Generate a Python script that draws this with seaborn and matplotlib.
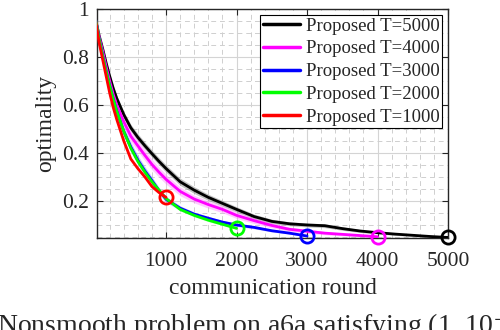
import matplotlib
matplotlib.use("Agg")
import matplotlib.pyplot as plt
import seaborn as sns
import numpy as np
import pandas as pd
from matplotlib.ticker import MultipleLocator, FixedLocator

# ---------------- data ----------------
x_all = [1, 50, 100, 150, 200, 250, 300, 400, 500, 600, 700, 800, 900, 1000,
         1200, 1400, 1600, 1800, 2000, 2250, 2500, 2750, 3000, 3250, 3500,
         3750, 4000, 4250, 4500, 4750, 5000]

y_T5000 = [0.955, 0.89, 0.835, 0.775, 0.72, 0.67, 0.628, 0.56, 0.505, 0.465,
           0.43, 0.397, 0.365, 0.335, 0.28, 0.245, 0.215, 0.19, 0.165, 0.135,
           0.115, 0.105, 0.10, 0.097, 0.085, 0.075, 0.068, 0.062, 0.057, 0.052,
           0.048]
y_T4000 = [0.955, 0.885, 0.825, 0.76, 0.70, 0.645, 0.60, 0.53, 0.47, 0.43,
           0.39, 0.352, 0.32, 0.29, 0.24, 0.208, 0.185, 0.165, 0.14, 0.118,
           0.098, 0.082, 0.074, 0.066, 0.061, 0.056, 0.051]
y_T3000 = [0.955, 0.875, 0.805, 0.74, 0.68, 0.625, 0.575, 0.49, 0.425, 0.37,
           0.325, 0.285, 0.243, 0.207, 0.17, 0.145, 0.128, 0.112, 0.10, 0.09,
           0.076, 0.066, 0.054]
y_T2000 = [0.955, 0.875, 0.805, 0.74, 0.68, 0.625, 0.575, 0.49, 0.42, 0.365,
           0.32, 0.28, 0.245, 0.21, 0.165, 0.14, 0.12, 0.103, 0.086]
y_T1000 = [0.95, 0.86, 0.79, 0.72, 0.65, 0.59, 0.54, 0.45, 0.375, 0.335,
           0.30, 0.26, 0.235, 0.215]

spread_T5000 = [0.004, 0.006, 0.008, 0.009, 0.01, 0.011, 0.012, 0.013, 0.014,
                0.015, 0.015, 0.015, 0.015, 0.015, 0.015, 0.014, 0.013, 0.012,
                0.011, 0.01, 0.009, 0.008, 0.008, 0.008, 0.007, 0.006, 0.005,
                0.005, 0.004, 0.004, 0.003]
spread_T4000 = [0.004, 0.008, 0.012, 0.014, 0.016, 0.018, 0.02, 0.022, 0.022,
                0.022, 0.022, 0.022, 0.021, 0.02, 0.018, 0.016, 0.015, 0.014,
                0.013, 0.012, 0.01, 0.009, 0.008, 0.007, 0.006, 0.005, 0.004]
spread_T3000 = [0.004, 0.008, 0.012, 0.014, 0.016, 0.017, 0.018, 0.02, 0.02,
                0.02, 0.018, 0.016, 0.014, 0.012, 0.01, 0.009, 0.008, 0.007,
                0.006, 0.006, 0.005, 0.004, 0.003]
spread_T2000 = [0.003, 0.005, 0.007, 0.008, 0.009, 0.01, 0.01, 0.01, 0.01,
                0.01, 0.009, 0.008, 0.008, 0.007, 0.007, 0.006, 0.006, 0.005,
                0.004]
spread_T1000 = [0.002, 0.003, 0.003, 0.003, 0.004, 0.004, 0.004, 0.004, 0.004,
                0.004, 0.004, 0.003, 0.003, 0.003]

labels = ["Proposed T=5000", "Proposed T=4000", "Proposed T=3000",
          "Proposed T=2000", "Proposed T=1000"]
colors = ["#000000", "#FF00FF", "#0000FF", "#00FF00", "#FF0000"]
band_colors = ["#7a7a7a", "#FF66FF", "#6666FF", "#66FF66", "#FF6666"]
band_alpha = [0.45, 0.35, 0.35, 0.35, 0.3]

x_ticks = [1000, 2000, 3000, 4000, 5000]
y_ticks = [0.2, 0.4, 0.6, 0.8, 1.0]
y_tick_labels = ["0.2", "0.4", "0.6", "0.8", "1"]

series = [y_T5000, y_T4000, y_T3000, y_T2000, y_T1000]
spreads = [spread_T5000, spread_T4000, spread_T3000, spread_T2000, spread_T1000]

# ---------------- plot ----------------
sns.set_theme(style="white")
plt.rcParams["font.family"] = ["Liberation Serif", "DejaVu Serif"]
plt.rcParams["mathtext.fontset"] = "stix"

fig = plt.figure(figsize=(5.0, 3.3), dpi=100)
ax = fig.add_axes([0.194, 0.2797, 0.702, 0.6930])

for ys, sp, lab, c, bc, ba in zip(series, spreads, labels, colors, band_colors, band_alpha):
    xs = x_all[:len(ys)]
    df = pd.DataFrame({"round": xs, "opt": ys})
    lo = np.array(ys) - np.array(sp)
    hi = np.array(ys) + np.array(sp)
    ax.fill_between(xs, lo, hi, color=bc, alpha=ba, lw=0, zorder=2)
    sns.lineplot(data=df, x="round", y="opt", ax=ax, color=c, lw=2.0,
                 label=lab, zorder=3, estimator=None)

# end markers
for ys, c in zip(series, colors):
    xs = x_all[:len(ys)]
    ax.plot([xs[-1]], [ys[-1]], marker="o", ms=9.5, mfc="none", mec=c, mew=2.0,
            ls="none", zorder=5, clip_on=False)

ax.set_xlim(20, 5000)
ax.set_ylim(0.047, 1.0)
ax.xaxis.set_major_locator(FixedLocator(x_ticks))
ax.yaxis.set_major_locator(FixedLocator(y_ticks))
ax.set_yticklabels(y_tick_labels)
ax.xaxis.set_minor_locator(MultipleLocator(200))
ax.yaxis.set_minor_locator(MultipleLocator(0.05))

ax.grid(which="major", color="#d4d4d4", lw=0.8, ls="-", zorder=0)
ax.grid(which="minor", color="#cfcfcf", lw=0.7, ls=(0, (5, 4)), zorder=0)
ax.set_axisbelow(True)

ax.tick_params(which="major", direction="in", length=4, width=0.8,
               top=True, right=True, bottom=True, left=True,
               labelsize=15.5, color="#262626", labelcolor="#262626")
ax.tick_params(axis="x", which="major", pad=10.5)
ax.tick_params(axis="y", which="major", pad=6)
ax.tick_params(which="minor", length=0)

for s in ax.spines.values():
    s.set_color("#262626")
    s.set_linewidth(1.0)
    s.set_visible(True)

ax.set_xlabel("communication round", fontsize=17, color="#262626", labelpad=5)
ax.set_ylabel("optimality", fontsize=17, color="#262626", labelpad=4)

leg = ax.legend(loc="upper right", fontsize=13.5, frameon=True, fancybox=False,
                edgecolor="#000000", framealpha=1, borderaxespad=0.33,
                handlelength=2.0, handletextpad=0.3, labelspacing=0.3,
                borderpad=0.12)
leg.get_frame().set_linewidth(0.8)
for line in leg.get_lines():
    line.set_linewidth(2.5)

fig.text(-0.006, -0.012, "Nonsmooth problem on a6a satisfying (1, 10$^{-3}$)-optimality",
         fontsize=20, ha="left", va="baseline", color="#262626")

fig.savefig("out.png", dpi=100)
